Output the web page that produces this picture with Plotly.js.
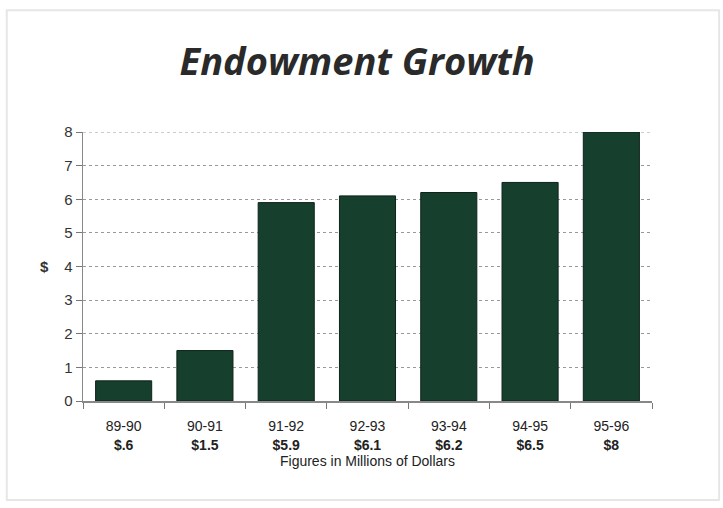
<!DOCTYPE html>
<html>
<head>
<meta charset="utf-8">
<script src="https://cdn.plot.ly/plotly-3.0.1.min.js"></script>
<style>
  html, body { margin: 0; padding: 0; background: #fff; }
  #chart { width: 723px; height: 508px; }
</style>
</head>
<body>
<div id="chart"></div>
<script>
const years = ["89-90", "90-91", "91-92", "92-93", "93-94", "94-95", "95-96"];
const valueLabels = ["$.6", "$1.5", "$5.9", "$6.1", "$6.2", "$6.5", "$8"];
const values = [0.6, 1.5, 5.9, 6.1, 6.2, 6.5, 8];
const yTicks = [0, 1, 2, 3, 4, 5, 6, 7, 8];
const yMax = 8;

const categories = years.map((y, i) => y + "<br><b>" + valueLabels[i] + "</b>");

const trace = {
  type: "bar",
  x: categories,
  y: values,
  marker: { color: "#173f2e", line: { color: "#0e2219", width: 1 } },
  hoverinfo: "none"
};

const layout = {
  width: 723,
  height: 508,
  margin: { l: 83, r: 71, t: 132, b: 107 },
  paper_bgcolor: "#ffffff",
  plot_bgcolor: "#ffffff",
  showlegend: false,
  bargap: 0.31,
  title: {
    text: "<b><i>Endowment Growth</i></b>",
    font: { family: "Open Sans, sans-serif", size: 38, color: "#2a2a2a" },
    x: 0.494, xanchor: "center",
    y: 0.878, yanchor: "middle", yref: "container"
  },
  xaxis: {
    type: "category",
    tickson: "boundaries",
    ticks: "outside",
    ticklen: 6,
    tickcolor: "#777",
    showline: true,
    linecolor: "#888",
    linewidth: 1.5,
    showgrid: false,
    ticklabelstandoff: 12,
    tickfont: { family: "Liberation Sans, Arial, sans-serif", size: 14, color: "#222" },
    title: {
      text: "Figures in Millions of Dollars",
      font: { family: "Liberation Sans, Arial, sans-serif", size: 14, color: "#222" },
      standoff: 4
    }
  },
  yaxis: {
    range: [0, yMax],
    tickvals: yTicks,
    ticks: "outside",
    ticklen: 6,
    tickcolor: "#777",
    showline: true,
    linecolor: "#888",
    linewidth: 1.5,
    showgrid: true,
    gridcolor: "#999",
    griddash: "dot",
    gridwidth: 1,
    zeroline: false,
    tickfont: { family: "Liberation Sans, Arial, sans-serif", size: 15, color: "#333" }
  },
  annotations: [{
    text: "<b>$</b>",
    xref: "paper", yref: "paper",
    x: -0.068, y: 0.5,
    xanchor: "center", yanchor: "middle",
    showarrow: false,
    font: { family: "Liberation Sans, Arial, sans-serif", size: 15, color: "#333" }
  }],
  shapes: [
    {
      type: "rect",
      xref: "paper", yref: "paper",
      x0: -0.134, x1: 1.118, y0: -0.368, y1: 1.453,
      line: { color: "#e6e6e6", width: 2 },
      layer: "below"
    },
    {
      type: "line",
      xref: "paper", yref: "y",
      x0: 0, x1: 1, y0: yMax, y1: yMax,
      line: { color: "#999", width: 1, dash: "dot" },
      layer: "below"
    }
  ]
};

Plotly.newPlot("chart", [trace], layout, { displayModeBar: false, staticPlot: true });
</script>
</body>
</html>
